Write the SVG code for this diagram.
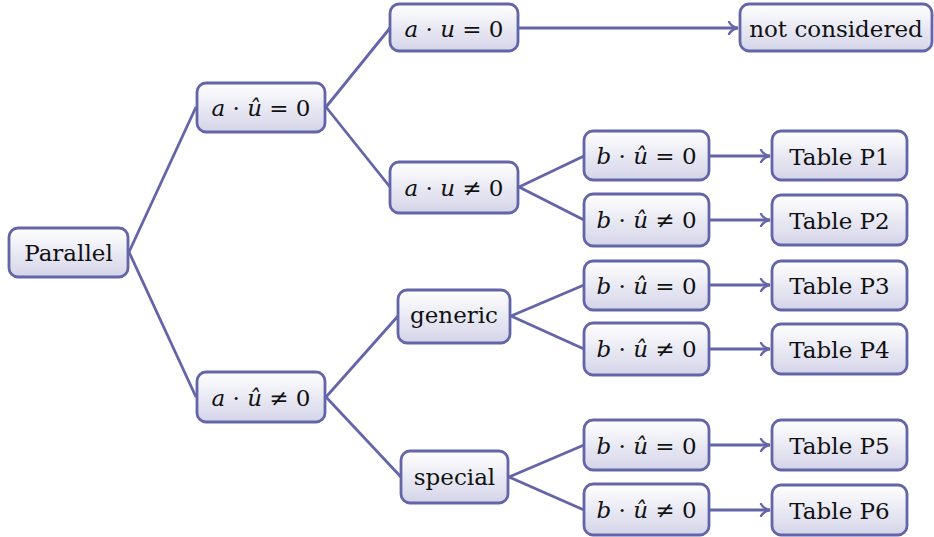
<svg xmlns="http://www.w3.org/2000/svg" width="934" height="537" viewBox="0 0 934 537">
<defs>
<linearGradient id="g" x1="0" y1="0" x2="0" y2="1">
<stop offset="0" stop-color="#ffffff"/>
<stop offset="1" stop-color="#d4d4e9"/>
</linearGradient>
<marker id="arr" viewBox="0 0 12 14" refX="11" refY="7" markerWidth="12" markerHeight="14" markerUnits="userSpaceOnUse" orient="auto">
<path d="M2,1 Q5,6 11,7 Q5,8 2,13" fill="none" stroke="#6464a8" stroke-width="2.4" stroke-linecap="round"/>
</marker>
</defs>
<style>
.box{fill:url(#g);stroke:#6464a8;stroke-width:2.8}
text{font-family:'DejaVu Serif',serif;font-size:23px;fill:#111;text-anchor:middle}
.i{font-style:italic}
.c{fill:none;stroke:#6464a8;stroke-width:2.8}
</style>
<g id="connectors">
<path class="c" d="M129,252 L196,107"/>
<path class="c" d="M129,252 L196,397"/>
<path class="c" d="M326,107 L390,28"/>
<path class="c" d="M326,107 L390,187"/>
<path class="c" d="M326,397 L398,316"/>
<path class="c" d="M326,397 L401,477"/>
<path class="c" d="M519,187 L584,156"/>
<path class="c" d="M519,187 L584,220"/>
<path class="c" d="M511,316 L584,285"/>
<path class="c" d="M511,316 L584,349"/>
<path class="c" d="M509,477 L584,445"/>
<path class="c" d="M509,477 L584,510"/>
<path class="c" d="M519,28 L738,28" marker-end="url(#arr)"/>
<path class="c" d="M710,156 L770,156" marker-end="url(#arr)"/>
<path class="c" d="M710,220 L770,220" marker-end="url(#arr)"/>
<path class="c" d="M710,285 L770,285" marker-end="url(#arr)"/>
<path class="c" d="M710,349 L770,349" marker-end="url(#arr)"/>
<path class="c" d="M710,445 L770,445" marker-end="url(#arr)"/>
<path class="c" d="M710,510 L770,510" marker-end="url(#arr)"/>
</g>
<g id="parallel"><rect class="box" x="9" y="228" width="119" height="49" rx="9"/><text x="68.5" y="261">Parallel</text></g>
<g id="auhat0"><rect class="box" x="197" y="83" width="128" height="49" rx="9"/><text x="261" y="116"><tspan class="i">a</tspan> · <tspan class="i">û</tspan> = 0</text></g>
<g id="auhatne0"><rect class="box" x="197" y="372" width="128" height="50" rx="9"/><text x="261" y="406"><tspan class="i">a</tspan> · <tspan class="i">û</tspan> ≠ 0</text></g>
<g id="au0"><rect class="box" x="390" y="4" width="128" height="47" rx="9"/><text x="454" y="37"><tspan class="i">a</tspan> · <tspan class="i">u</tspan> = 0</text></g>
<g id="aune0"><rect class="box" x="390" y="162" width="128" height="51" rx="9"/><text x="454" y="196"><tspan class="i">a</tspan> · <tspan class="i">u</tspan> ≠ 0</text></g>
<g id="generic"><rect class="box" x="398" y="290" width="112" height="53" rx="9"/><text x="454" y="323">generic</text></g>
<g id="special"><rect class="box" x="401" y="451" width="107" height="52" rx="9"/><text x="454.5" y="485">special</text></g>
<g id="notconsidered"><rect class="box" x="740" y="4" width="192" height="47" rx="9"/><text x="836" y="37">not considered</text></g>
<g id="b1"><rect class="box" x="584" y="131" width="125" height="49" rx="9"/><text x="646.5" y="164"><tspan class="i">b</tspan> · <tspan class="i">û</tspan> = 0</text></g>
<g id="b2"><rect class="box" x="584" y="194" width="125" height="52" rx="9"/><text x="646.5" y="228"><tspan class="i">b</tspan> · <tspan class="i">û</tspan> ≠ 0</text></g>
<g id="b3"><rect class="box" x="584" y="261" width="125" height="49" rx="9"/><text x="646.5" y="294"><tspan class="i">b</tspan> · <tspan class="i">û</tspan> = 0</text></g>
<g id="b4"><rect class="box" x="584" y="323" width="125" height="52" rx="9"/><text x="646.5" y="357"><tspan class="i">b</tspan> · <tspan class="i">û</tspan> ≠ 0</text></g>
<g id="b5"><rect class="box" x="584" y="420" width="125" height="50" rx="9"/><text x="646.5" y="454"><tspan class="i">b</tspan> · <tspan class="i">û</tspan> = 0</text></g>
<g id="b6"><rect class="box" x="584" y="484" width="125" height="51" rx="9"/><text x="646.5" y="518"><tspan class="i">b</tspan> · <tspan class="i">û</tspan> ≠ 0</text></g>
<g id="p1"><rect class="box" x="772" y="131" width="135" height="49" rx="9"/><text x="839.5" y="165">Table P1</text></g>
<g id="p2"><rect class="box" x="772" y="195" width="135" height="50" rx="9"/><text x="839.5" y="229">Table P2</text></g>
<g id="p3"><rect class="box" x="772" y="261" width="135" height="49" rx="9"/><text x="839.5" y="294">Table P3</text></g>
<g id="p4"><rect class="box" x="772" y="324" width="135" height="50" rx="9"/><text x="839.5" y="358">Table P4</text></g>
<g id="p5"><rect class="box" x="772" y="420" width="135" height="50" rx="9"/><text x="839.5" y="454">Table P5</text></g>
<g id="p6"><rect class="box" x="772" y="485" width="135" height="50" rx="9"/><text x="839.5" y="519">Table P6</text></g>
</svg>
